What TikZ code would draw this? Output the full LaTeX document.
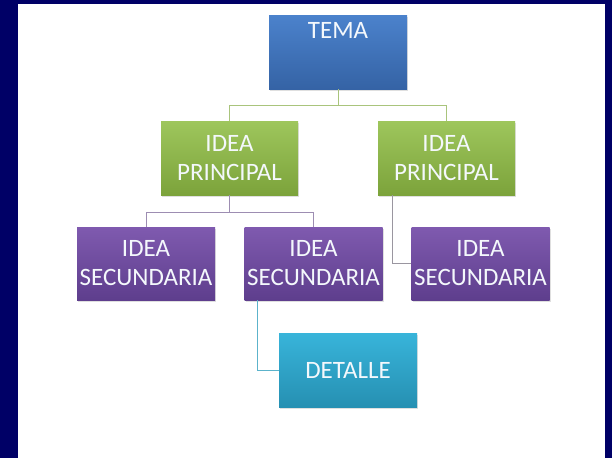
\documentclass[tikz,border=0pt]{standalone}
\usepackage{fontspec}
\setmainfont{Carlito}
\usetikzlibrary{shadows}
\definecolor{navy}{RGB}{0,0,102}
\definecolor{bluetop}{HTML}{4B82CC}
\definecolor{bluebot}{HTML}{3563A5}
\definecolor{greentop}{HTML}{9EC65C}
\definecolor{greenbot}{HTML}{7CA33B}
\definecolor{purptop}{HTML}{7F5AAF}
\definecolor{purpbot}{HTML}{5E3E8D}
\definecolor{tealtop}{HTML}{38B4DA}
\definecolor{tealbot}{HTML}{2690B2}
\definecolor{lgreen}{HTML}{A9C47C}
\definecolor{lpurp}{HTML}{9D8DB2}
\definecolor{lgray}{HTML}{9A96A0}
\definecolor{lteal}{HTML}{5CB3CB}
\definecolor{txt}{HTML}{F4F8FC}
\tikzset{
  box/.style={rectangle, inner sep=0pt, text=txt, align=center,
    font=\fontsize{25}{29}\selectfont,
    drop shadow={opacity=0.25, shadow xshift=1pt, shadow yshift=-2pt}},
  tema/.style={box, minimum width=138pt, minimum height=74pt, top color=bluetop, bottom color=bluebot},
  princ/.style={box, minimum width=137pt, minimum height=74pt, top color=greentop, bottom color=greenbot},
  secund/.style={box, minimum width=138pt, minimum height=73pt, top color=purptop, bottom color=purpbot},
  detalle/.style={box, minimum width=138pt, minimum height=74pt, top color=tealtop, bottom color=tealbot},
  conn/.style={line width=0.9pt}
}
\begin{document}
\begin{tikzpicture}[x=1pt,y=-1pt]
\fill[navy] (0,0) rectangle (612,458);
\fill[white] (18,4) rectangle (605,458);
\useasboundingbox (0,0) rectangle (612,458);

\node[tema] (tema) at (338,52) {\raisebox{22pt}[\height][\depth]{TEMA}};
\node[princ] (gp1) at (229.5,158) {IDEA\\PRINCIPAL};
\node[princ] (gp2) at (446.5,158) {IDEA\\PRINCIPAL};
\node[secund] (ps1) at (146,263.5) {IDEA\\SECUNDARIA};
\node[secund] (ps2) at (313.5,263.5) {IDEA\\SECUNDARIA};
\node[secund] (ps3) at (480.5,263.5) {IDEA\\SECUNDARIA};
\node[detalle] (det) at (348,370) {DETALLE};

\draw[conn, lgreen] (tema.south) -- ++(0,16) -| (gp1.north);
\draw[conn, lgreen] (tema.south) -- ++(0,16) -| (gp2.north);
\draw[conn, lpurp] (gp1.south) -- ++(0,17) -| (ps1.north);
\draw[conn, lpurp] (gp1.south) -- ++(0,17) -| (ps2.north);
\draw[conn, lgray] ([xshift=15pt]gp2.south west) |- (ps3.west);
\draw[conn, lteal] ([xshift=13pt]ps2.south west) |- (det.west);
\end{tikzpicture}
\end{document}
